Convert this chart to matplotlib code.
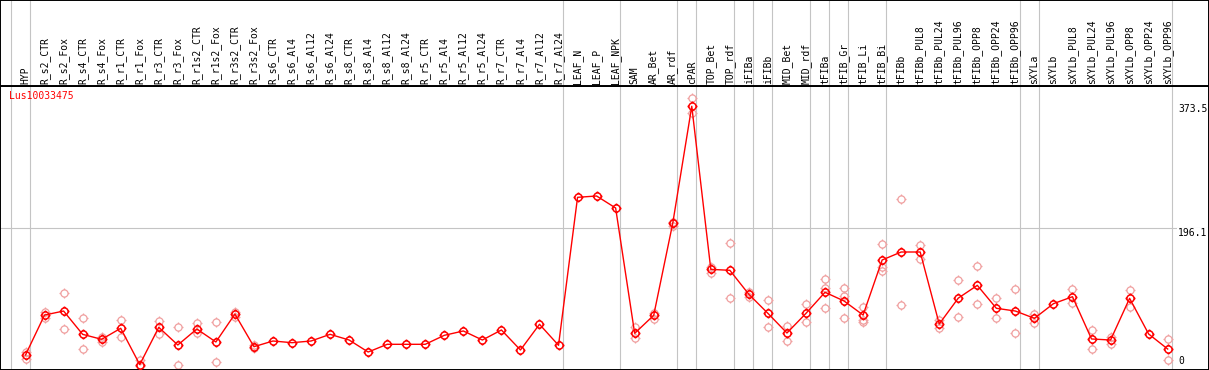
import matplotlib
matplotlib.use('Agg')
import matplotlib.pyplot as plt
import numpy as np
from matplotlib.path import Path

plt.rcParams['font.family'] = 'DejaVu Sans Mono'

gene = 'Lus10033475'
labels = ['HYP', 'R_s2_CTR', 'R_s2_Fox', 'R_s4_CTR', 'R_s4_Fox', 'R_r1_CTR', 'R_r1_Fox',
          'R_r3_CTR', 'R_r3_Fox', 'R_r1s2_CTR', 'R_r1s2_Fox', 'R_r3s2_CTR', 'R_r3s2_Fox',
          'R_s6_CTR', 'R_s6_Al4', 'R_s6_Al12', 'R_s6_Al24', 'R_s8_CTR', 'R_s8_Al4',
          'R_s8_Al12', 'R_s8_Al24', 'R_r5_CTR', 'R_r5_Al4', 'R_r5_Al12', 'R_r5_Al24',
          'R_r7_CTR', 'R_r7_Al4', 'R_r7_Al12', 'R_r7_Al24', 'LEAF_N', 'LEAF_P', 'LEAF_NPK',
          'SAM', 'AR_Bet', 'AR_rdf', 'cPAR', 'TOP_Bet', 'TOP_rdf', 'iFIBa', 'iFIBb',
          'MID_Bet', 'MID_rdf', 'tFIBa', 'tFIB_Gr', 'tFIB_Li', 'tFIB_Bi', 'tFIBb',
          'tFIBb_PUL8', 'tFIBb_PUL24', 'tFIBb_PUL96', 'tFIBb_OPP8', 'tFIBb_OPP24',
          'tFIBb_OPP96', 'sXYLa', 'sXYLb', 'sXYLb_PUL8', 'sXYLb_PUL24', 'sXYLb_PUL96',
          'sXYLb_OPP8', 'sXYLb_OPP24', 'sXYLb_OPP96']

means = [15.7, 72.6, 78.3, 45.1, 38.0, 53.7, 2.0, 55.1, 29.9, 52.7, 34.2, 74.0, 27.5,
         35.6, 33.2, 35.6, 45.1, 37.0, 19.9, 30.9, 30.9, 30.9, 43.7, 49.9, 37.0,
         51.3, 22.8, 59.4, 29.5, 240.3, 242.2, 225.1, 46.5, 72.2, 203.3, 370.0,
         137.7, 136.3, 102.1, 75.0, 47.0, 75.0, 105.0, 92.6, 72.6, 151.0, 162.4,
         162.4, 59.8, 96.7, 114.9, 82.2, 78.3, 67.9, 88.8, 98.7, 38.5, 37.0, 96.4,
         45.6, 24.2]

reps = [[9.5, 20], [77, 68], [103.5, 52], [68, 24], [41, 34], [65.5, 42], [8.5, 0],
        [64.5, 46], [56, 2], [61, 47], [62, 5], [77, 70], [30, 25],
        [], [], [], [], [], [], [], [], [], [], [], [], [], [], [], [], [], [], [],
        [56, 40], [75, 66.5], [205.6, 199.4], [381.3, 360], [141.5, 132], [175.2, 96.4],
        [105.9, 98.7], [94, 55.1], [57.4, 36.1], [87.8, 63.2], [123.5, 111.6, 82.2],
        [111.1, 100.2, 67.9], [84, 65.5, 63.2], [173.8, 140.6, 135.8], [237.4, 86.4],
        [171.9, 152.9], [65.5, 54.6], [122.5, 69.8], [142.5, 87.9], [96.4, 67.9],
        [109.2, 46.5], [74.1, 61.7], [], [109.7, 89.3], [50.8, 23.8], [41.8, 31.3],
        [108.3, 84.5], [], [38, 8.1]]

# group separators sit just after these sample indices
breaks = [-1, 0, 28, 31, 34, 35, 37, 38, 39, 41, 42, 43, 45, 52, 53, 60]
scale_marks = [373.5, 196.1, 0]

# circle marker with four little ticks
circ = Path.unit_circle()
tv, tc = [], []
for dx, dy in [(1, 0), (-1, 0), (0, 1), (0, -1)]:
    tv += [(dx, dy), (1.4 * dx, 1.4 * dy)]
    tc += [Path.MOVETO, Path.LINETO]
marker = Path.make_compound_path(circ, Path(tv, tc))

W, H = 1209, 370
fig = plt.figure(figsize=(W / 100, H / 100), dpi=100)
x0, dx = 26, 19.02
xl = ((0.5 - x0) / dx, (1208.5 - x0) / dx)

ax = fig.add_axes([0, 0.5 / H, 1, (370 - 86 - 0.5) / H])
hd = fig.add_axes([0, (370 - 86) / H, 1, 86 / H])

x = np.arange(len(labels))
for a in (ax, hd):
    a.set_xlim(*xl)
    a.set_xticks([])
    a.set_yticks([])
    for b in breaks:
        a.axvline(b + 0.22, color='#c4c4c4', lw=0.8, zorder=0)
    for s in a.spines.values():
        s.set_color('black')
        s.set_linewidth(1.4)

ax.set_ylim(-5.0, 398.9)
ax.axhline(196.1, color='#c4c4c4', lw=0.8, zorder=0)

rx = [i for i, r in enumerate(reps) for _ in r]
ry = [v for r in reps for v in r]
ax.plot(rx, ry, ls='none', marker=marker, ms=7.2, mfc='none', mec='#f0a0a0', mew=0.9, zorder=2)
ax.plot(x, means, color='red', lw=1.0, marker=marker, ms=7.2, mfc='none', mec='red', mew=1.1, zorder=3)

ax.text(-0.85, 384, gene, color='red', fontsize=7, va='center', ha='left')
for v in scale_marks:
    ax.text(60.55, v, f'{v:g}', fontsize=7, ha='left', va='top' if v > 0 else 'bottom',
            bbox=dict(facecolor='white', edgecolor='none', pad=0.5))

hd.set_ylim(0, 86)
for i, lab in enumerate(labels):
    hd.text(i, 2.5, lab, rotation=90, fontsize=7, ha='center', va='bottom')

fig.savefig('out.png', dpi=100)
